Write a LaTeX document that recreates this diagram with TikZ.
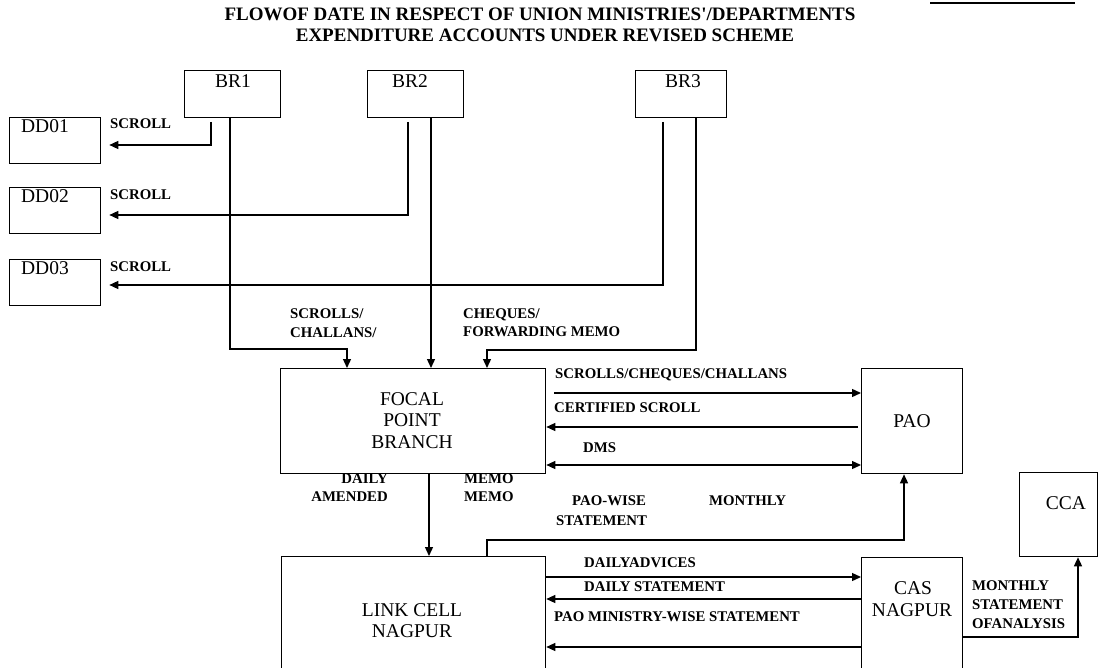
\documentclass[tikz,border=0pt]{standalone}
\usepackage{fontspec}
\setmainfont{Liberation Serif}
\usetikzlibrary{arrows.meta}
\newcommand\myboxfont{\fontsize{19.5}{22}\selectfont}
\newcommand\mylblfont{\fontsize{14.8}{18}\selectfont\bfseries}
\newcommand\mytitlefont{\fontsize{19}{22}\selectfont\bfseries}
\tikzset{
  box/.style={draw, line width=1.3pt, inner sep=0pt, anchor=north west},
  btxt/.style={font=\myboxfont, inner sep=0pt, text height=0.66em, text depth=0pt},
  lab/.style={font=\mylblfont, inner sep=0pt, text height=0.66em, text depth=0pt, anchor=west},
  labr/.style={lab, anchor=east},
  ttl/.style={font=\mytitlefont, inner sep=0pt, text height=0.66em, text depth=0pt},
  conn/.style={line width=1.3pt},
  arr/.style={conn, -{Triangle[length=9pt,width=8pt]}},
  arrb/.style={conn, {Triangle[length=9pt,width=8pt]}-{Triangle[length=9pt,width=8pt]}},
}
\begin{document}
\begin{tikzpicture}[x=1pt,y=-1pt]
\useasboundingbox[fill=white] (0,0) rectangle (1099,668);

% title
\node[ttl] (t1) at (540,17) {FLOWOF DATE IN RESPECT OF UNION MINISTRIES\textquotesingle/DEPARTMENTS};
\node[ttl] (t2) at (545,38) {EXPENDITURE ACCOUNTS UNDER REVISED SCHEME};
\draw[line width=1.6pt] (930,3) -- (1075,3);

% boxes
\node[box, minimum width=96pt, minimum height=47pt] (br1) at (184,70) {};
\node[box, minimum width=96pt, minimum height=47pt] (br2) at (367,70) {};
\node[box, minimum width=91pt, minimum height=47pt] (br3) at (635,70) {};
\node[box, minimum width=91pt, minimum height=46pt] (dd1) at (9,117) {};
\node[box, minimum width=91pt, minimum height=46pt] (dd2) at (9,187) {};
\node[box, minimum width=91pt, minimum height=46pt] (dd3) at (9,259) {};
\node[box, minimum width=265pt, minimum height=105pt] (fpb) at (280,368) {};
\node[box, minimum width=101pt, minimum height=105pt] (pao) at (861,368) {};
\node[box, minimum width=264pt, minimum height=125pt] (lcn) at (281,556) {};
\node[box, minimum width=101pt, minimum height=125pt] (cas) at (861,557) {};
\node[box, minimum width=78pt, minimum height=84pt] (cca) at (1019,472) {};

% box texts
\node[btxt] (br1t) at (233,84) {BR1};
\node[btxt] (br2t) at (410,84) {BR2};
\node[btxt] (br3t) at (683,84) {BR3};
\node[btxt] (dd1t) at (45,129) {DD01};
\node[btxt] (dd2t) at (45,199) {DD02};
\node[btxt] (dd3t) at (45,271) {DD03};
\node[btxt] (fpbt1) at (412,402) {FOCAL};
\node[btxt] (fpbt2) at (412,423) {POINT};
\node[btxt] (fpbt3) at (412,445) {BRANCH};
\node[btxt] (paot) at (912,424) {PAO};
\node[btxt] (lcnt1) at (412,613) {LINK CELL};
\node[btxt] (lcnt2) at (412,634) {NAGPUR};
\node[btxt] (cast1) at (913,591) {CAS};
\node[btxt] (cast2) at (912,613) {NAGPUR};
\node[btxt] (ccat) at (1066,506) {CCA};

% labels
\node[lab] (s1) at (110,125) {SCROLL};
\node[lab] (s2) at (110,196) {SCROLL};
\node[lab] (s3) at (110,268) {SCROLL};
\node[lab] (sc1) at (290,315) {SCROLLS/};
\node[lab] (sc2) at (290,334) {CHALLANS/};
\node[lab] (ch1) at (463,315) {CHEQUES/};
\node[lab] (ch2) at (463,333) {FORWARDING MEMO};
\node[lab] (l1) at (555,375) {SCROLLS/CHEQUES/CHALLANS};
\node[lab] (l2) at (554,409) {CERTIFIED SCROLL};
\node[lab] (l3) at (583,449) {DMS};
\node[labr] (l4) at (388,480) {DAILY};
\node[labr] (l5) at (388,498) {AMENDED};
\node[lab] (l6) at (464,480) {MEMO};
\node[lab] (l7) at (464,498) {MEMO};
\node[lab] (l8) at (572,502) {PAO-WISE};
\node[lab] (l9) at (556,522) {STATEMENT};
\node[lab] (l10) at (709,502) {MONTHLY};
\node[lab] (l11) at (584,564) {DAILYADVICES};
\node[lab] (l12) at (584,588) {DAILY STATEMENT};
\node[lab] (l13) at (554,618) {PAO MINISTRY-WISE STATEMENT};
\node[lab] (l14) at (972,587) {MONTHLY};
\node[lab] (l15) at (972,606) {STATEMENT};
\node[lab] (l16) at (972,625) {OFANALYSIS};

% bend / start coordinates
\coordinate (d1s) at (211,122); \coordinate (d1b) at (211,145);
\coordinate (d2s) at (408,122); \coordinate (d2b) at (408,215);
\coordinate (d3s) at (663,122); \coordinate (d3b) at (663,285);
\coordinate (c1) at (230,349); \coordinate (c1e) at (347,349);
\coordinate (c2) at (431,200);
\coordinate (c3) at (696,350); \coordinate (c3e) at (487,350);
\coordinate (a1) at (554,393);
\coordinate (a2) at (858,427);
\coordinate (a3) at (700,465);
\coordinate (c4) at (429,500);
\coordinate (c5) at (487,540); \coordinate (c6) at (904,540);
\coordinate (a4) at (700,577);
\coordinate (a5) at (861,599);
\coordinate (a6) at (861,647);
\coordinate (a7) at (962,637); \coordinate (a8) at (1078,637);

% connectors
\draw[arr, shorten >=8pt] (d1s) |- (dd1.east |- d1b);
\draw[arr, shorten >=8pt] (d2s) |- (dd2.east |- d2b);
\draw[arr, shorten >=8pt] (d3s) |- (dd3.east |- d3b);
\draw[arr] (br1.south -| c1) -- (c1) -| (fpb.north -| c1e);
\draw[arr] (br2.south -| c2) -- (fpb.north -| c2);
\draw[arr] (br3.south -| c3) -- (c3) -| (fpb.north -| c3e);
\draw[arr] (a1) -- (pao.west |- a1);
\draw[arr] (a2) -- (fpb.east |- a2);
\draw[arrb] (fpb.east |- a3) -- (pao.west |- a3);
\draw[arr] (fpb.south -| c4) -- (lcn.north -| c4);
\draw[arr] (lcn.north -| c5) -- (c5) -| (pao.south -| c6);
\draw[arr] (lcn.east |- a4) -- (cas.west |- a4);
\draw[arr] (a5) -- (lcn.east |- a5);
\draw[arr] (a6) -- (lcn.east |- a6);
\draw[arr] (a7) -| (cca.south -| a8);
\end{tikzpicture}
\end{document}
